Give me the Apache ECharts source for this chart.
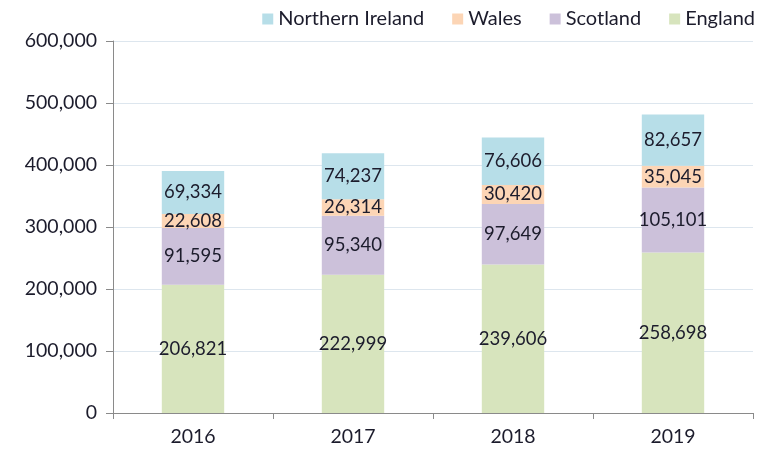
<!DOCTYPE html>
<html><head><meta charset="utf-8">
<script src="https://cdn.jsdelivr.net/npm/echarts@6/dist/echarts.min.js"></script>
<style>html,body{margin:0;padding:0;background:#fff}#c{width:778px;height:452px}</style>
</head><body><div id="c"></div>
<script>
const categories = ['2016', '2017', '2018', '2019'];
const england = [206821, 222999, 239606, 258698];
const scotland = [91595, 95340, 97649, 105101];
const wales = [22608, 26314, 30420, 35045];
const northernIreland = [69334, 74237, 76606, 82657];
const yTicks = [0, 100000, 200000, 300000, 400000, 500000, 600000];

const font = 'Lato, "Open Sans", sans-serif';
const fmt = v => v.toLocaleString('en-US');
const chart = echarts.init(document.getElementById('c'), null, {renderer: 'canvas'});
function s(name, data, color) {
  return {
    name, type: 'bar', stack: 'total', data, barWidth: '39%',
    itemStyle: {color},
    label: {show: true, position: 'inside', formatter: p => fmt(p.value),
      color: '#1c1c2c', fontSize: 18.5, fontFamily: font}
  };
}
chart.setOption({
  animation: false,
  textStyle: {fontFamily: font},
  legend: {
    data: ['Northern Ireland', 'Wales', 'Scotland', 'England'],
    top: 4, right: 18, itemWidth: 11, itemHeight: 11, itemGap: 28,
    icon: 'rect',
    textStyle: {fontSize: 20, color: '#1c1c2c', fontFamily: font}
  },
  grid: {left: 113, right: 25, top: 41, bottom: 39, containLabel: false},
  xAxis: {
    type: 'category', data: categories,
    axisLine: {lineStyle: {color: '#8a8a8a'}},
    axisTick: {show: true, length: 6, lineStyle: {color: '#8a8a8a'}},
    axisLabel: {fontSize: 19.5, color: '#1c1c2c', margin: 14, fontFamily: font}
  },
  yAxis: {
    type: 'value', min: yTicks[0], max: yTicks[yTicks.length - 1], interval: yTicks[1] - yTicks[0],
    axisLine: {show: true, lineStyle: {color: '#8a8a8a'}},
    axisTick: {show: true, length: 7, lineStyle: {color: '#8a8a8a'}},
    splitLine: {lineStyle: {color: '#dde6ee'}},
    axisLabel: {fontSize: 19.5, color: '#1c1c2c', margin: 16, fontFamily: font, formatter: v => fmt(v)}
  },
  series: [
    s('England', england, '#d7e4bd'),
    s('Scotland', scotland, '#ccc1da'),
    s('Wales', wales, '#fcd5b5'),
    s('Northern Ireland', northernIreland, '#b7dee8')
  ]
});
</script></body></html>
